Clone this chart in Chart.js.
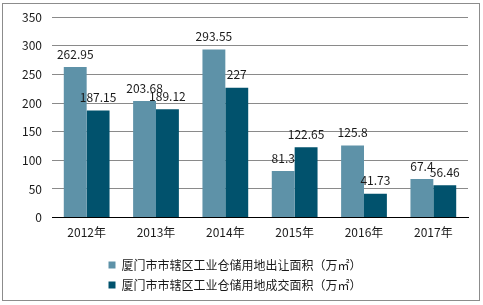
<!DOCTYPE html>
<html>
<head>
<meta charset="utf-8">
<script src="https://cdn.jsdelivr.net/npm/chart.js@4/dist/chart.umd.min.js"></script>
<style>
  html, body { margin: 0; padding: 0; background: #fff; }
  #wrap { position: relative; width: 483px; height: 305px; }
  #frame { position: absolute; left: 2px; top: 3px; width: 478px; height: 298px; border: 1px solid #8c8c8c; box-sizing: border-box; pointer-events: none; }
  canvas { display: block; }
</style>
</head>
<body>
<div id="wrap">
  <canvas id="chart" width="483" height="305"></canvas>
  <div id="frame"></div>
</div>
<script>
const years = ['2012年', '2013年', '2014年', '2015年', '2016年', '2017年'];
const transferArea = [262.95, 203.68, 293.55, 81.3, 125.8, 67.4];
const dealArea = [187.15, 189.12, 227, 122.65, 41.73, 56.46];
const yTicks = [0, 50, 100, 150, 200, 250, 300, 350];

const FONT = '"Noto Sans CJK SC", "Noto Sans", sans-serif';

const valueLabels = {
  id: 'valueLabels',
  afterDatasetsDraw(chart) {
    const ctx = chart.ctx;
    ctx.save();
    ctx.font = '12px ' + FONT;
    ctx.fillStyle = '#1a1a1a';
    ctx.textAlign = 'center';
    ctx.textBaseline = 'middle';
    chart.data.datasets.forEach((ds, i) => {
      chart.getDatasetMeta(i).data.forEach((bar, j) => {
        ctx.fillText(String(ds.data[j]), bar.x, bar.y - 13);
      });
    });
    ctx.restore();
  },
};

new Chart(document.getElementById('chart'), {
  type: 'bar',
  data: {
    labels: years,
    datasets: [
      {
        label: '厦门市市辖区工业仓储用地出让面积（万㎡）',
        data: transferArea,
        backgroundColor: '#5e92a8',
        categoryPercentage: 0.66,
        barPercentage: 1,
      },
      {
        label: '厦门市市辖区工业仓储用地成交面积（万㎡）',
        data: dealArea,
        backgroundColor: '#01526d',
        categoryPercentage: 0.66,
        barPercentage: 1,
      },
    ],
  },
  options: {
    responsive: false,
    animation: false,
    layout: { padding: { left: 2, right: 15, top: 17, bottom: 4 } },
    plugins: {
      legend: {
        position: 'bottom',
        labels: {
          font: { family: FONT, size: 12 },
          color: '#1a1a1a',
          boxWidth: 7,
          boxHeight: 7,
          padding: 8,
        },
      },
      tooltip: { enabled: false },
    },
    scales: {
      x: {
        grid: { display: false },
        border: { color: '#000', width: 1 },
        ticks: { font: { family: FONT, size: 12 }, color: '#1a1a1a', padding: 0 },
        afterFit(scale) { scale.height += 11; },
      },
      y: {
        min: 0,
        max: 350,
        afterBuildTicks(scale) { scale.ticks = yTicks.map((v) => ({ value: v })); },
        afterFit(scale) { scale.width = 50; },
        grid: { color: '#8a8a8a', drawTicks: false },
        border: { display: false },
        ticks: { font: { family: FONT, size: 12 }, color: '#1a1a1a', padding: 10 },
      },
    },
  },
  plugins: [valueLabels],
});
</script>
</body>
</html>
